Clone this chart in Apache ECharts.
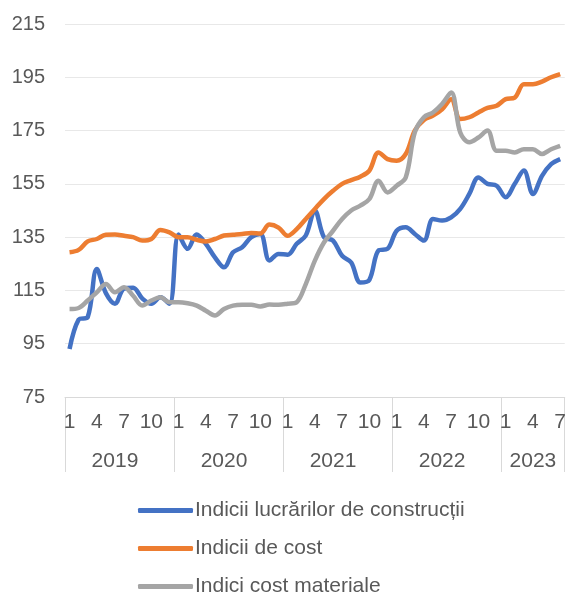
<!DOCTYPE html>
<html>
<head>
<meta charset="utf-8">
<script src="https://cdn.jsdelivr.net/npm/echarts@6/dist/echarts.min.js"></script>
<style>
html,body{margin:0;padding:0;background:#fff;}
#chart{width:569px;height:595px;}
</style>
</head>
<body>
<div id="chart"></div>
<script>
const years = ['2019','2020','2021','2022','2023'];
const monthsPerYear = [12,12,12,12,7];
const shownMonths = [1,4,7,10];
const yTicks = [75,95,115,135,155,175,195,215];

const seriesNames = ['Indicii lucrărilor de construcții','Indicii de cost','Indici cost materiale'];

const constructii = [
  93,104,105,123,114,110,115.7,116,112,110,112.4,110,
  136,130.6,136,132.5,127.4,123.7,129.3,131.2,135,136.2,126.2,128.7,
  128.4,132.5,135.6,145,135,133.7,128,125.5,118,119,130,130.6,
  137.4,138.7,136.2,133.7,141.8,141.2,142.4,145.6,151.2,157.4,155,154.3,
  150,155,160,151.2,158,162.4,164.3
];
const cost = [
  129.3,130.2,133.4,134.3,135.9,136,135.5,135,133.7,134.3,137.7,136.8,
  135,135,134,133.4,134.3,135.6,135.9,136.2,136.6,136.4,139.7,138.6,
  135.5,138,141.8,145.6,149.3,152.4,155,156.4,157.7,160,166.8,164.3,
  163.7,166.2,175,179,180.6,183,186.8,179.3,180,181.8,183.5,184.3,
  186.8,187.4,192.4,192.4,193.4,195,196.2
];
const materiale = [
  108,108.4,111.2,114.3,117.4,114.3,116.2,113,109.3,111.2,112.4,110.6,
  110.6,110.2,109.3,107.4,105.6,108,109.3,109.6,109.6,109,109.7,109.6,
  110,110.6,117.4,126.2,133,137.4,141.8,145,146.8,149.3,156.2,151.8,
  154.3,157.4,174.3,180,181.8,185,189.3,174.3,170.6,172.4,175,167.4,
  167.4,166.8,168,168,166.2,168,169.3
];

// category list (year, month) and helpers
const categories = [];
const yearStart = [];
const yearMid = {};
years.forEach((y, yi) => {
  yearStart.push(categories.length);
  const n = monthsPerYear[yi];
  yearMid[categories.length + Math.floor((n - 1) / 2)] = y;
  for (let m = 1; m <= n; m++) categories.push(y + '-' + m);
});

const FONT = 'Liberation Sans, Arial, sans-serif';
const TXT = '#595959';
const colors = ['#4472C4', '#ED7D31', '#A5A5A5'];

const chart = echarts.init(document.getElementById('chart'), null, {renderer: 'canvas'});
chart.setOption({
  animation: false,
  color: colors,
  textStyle: {fontFamily: FONT},
  grid: {left: 65, right: 1, top: 24, bottom: 198, containLabel: false},
  legend: {
    orient: 'vertical',
    left: 133,
    top: 495,
    height: 110,
    itemWidth: 55,
    itemHeight: 5,
    itemGap: 17,
    icon: 'roundRect',
    textStyle: {fontFamily: FONT, fontSize: 21, color: TXT, padding: [0, 0, 0, -3]},
    data: seriesNames
  },
  xAxis: [
    {
      type: 'category',
      data: categories,
      boundaryGap: true,
      axisLine: {show: true, lineStyle: {color: '#d9d9d9', width: 1}},
      axisTick: {
        show: true,
        length: 75,
        interval: (i) => yearStart.indexOf(i) >= 0,
        lineStyle: {color: '#d9d9d9', width: 1}
      },
      axisLabel: {
        interval: 0,
        margin: 15,
        fontSize: 21,
        color: TXT,
        fontFamily: FONT,
        formatter: (v) => {
          const m = parseInt(v.split('-')[1], 10);
          return shownMonths.indexOf(m) >= 0 ? String(m) : '';
        }
      },
      splitLine: {show: false}
    },
    {
      type: 'category',
      data: categories,
      position: 'bottom',
      offset: 39,
      boundaryGap: true,
      axisLine: {show: false},
      axisTick: {show: false},
      axisLabel: {
        interval: 0,
        margin: 15,
        fontSize: 21,
        color: TXT,
        fontFamily: FONT,
        formatter: (v, i) => yearMid[i] || ''
      },
      splitLine: {show: false}
    }
  ],
  yAxis: {
    type: 'value',
    min: yTicks[0],
    max: yTicks[yTicks.length - 1],
    interval: 20,
    axisLine: {show: false},
    axisTick: {show: false},
    axisLabel: {fontSize: 20, color: TXT, fontFamily: FONT, margin: 20},
    splitLine: {lineStyle: {color: '#e8e8e8', width: 1}}
  },
  series: [
    {name: seriesNames[0], type: 'line', data: constructii, smooth: 0.35, symbol: 'none', lineStyle: {width: 4.5, color: colors[0]}, xAxisIndex: 0},
    {name: seriesNames[1], type: 'line', data: cost, smooth: 0.35, symbol: 'none', lineStyle: {width: 4.5, color: colors[1]}, xAxisIndex: 0},
    {name: seriesNames[2], type: 'line', data: materiale, smooth: 0.35, symbol: 'none', lineStyle: {width: 4.5, color: colors[2]}, xAxisIndex: 0}
  ]
});
</script>
</body>
</html>
